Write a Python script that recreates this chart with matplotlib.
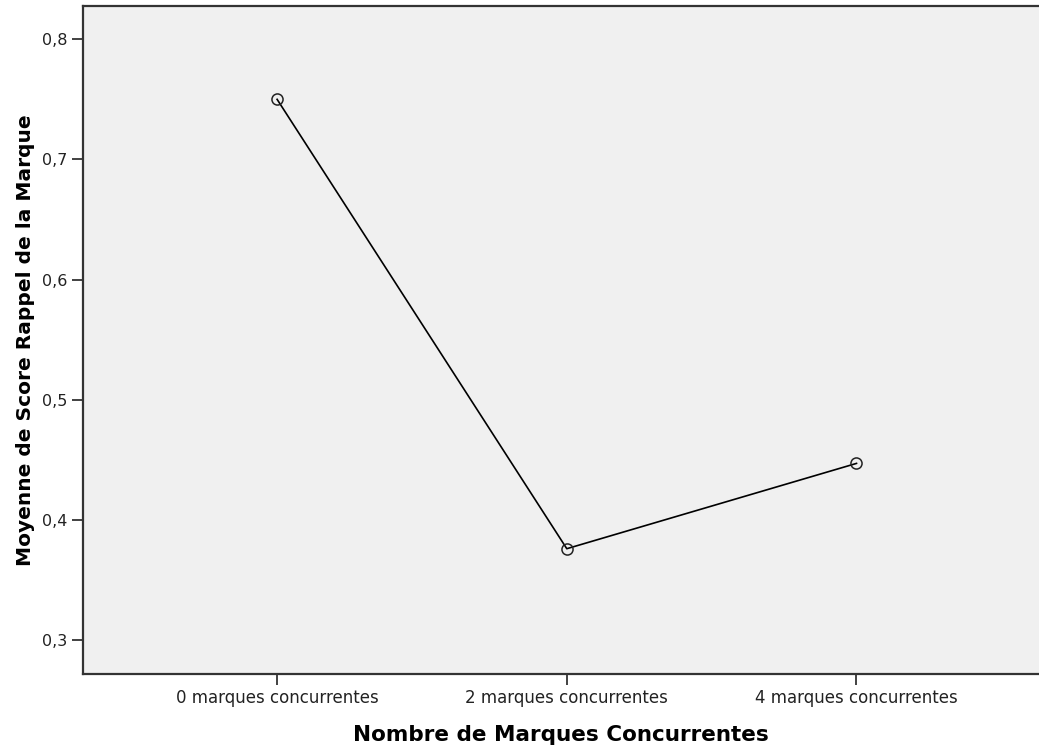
import matplotlib.pyplot as plt
import numpy as np

plt.rcParams['font.family'] = ['DejaVu Sans']

categories = ["0 marques concurrentes", "2 marques concurrentes", "4 marques concurrentes"]
means = [0.750, 0.376, 0.447]
yticks = [0.3, 0.4, 0.5, 0.6, 0.7, 0.8]
ytick_labels = ["0,3", "0,4", "0,5", "0,6", "0,7", "0,8"]

fig = plt.figure(figsize=(10.39, 7.49), dpi=100)
ax = fig.add_axes([0.0799, 0.1001, 0.9201, 0.8919])
ax.set_facecolor("#f0f0f0")

x = np.arange(len(categories))
ax.plot(x, means, color="black", lw=1.2, marker="o", ms=8, mfc="none",
        mec="#222222", mew=1.1)

ax.set_xlim(-0.67, 2.63)
ax.set_ylim(0.2717, 0.8277)
ax.set_xticks(x)
ax.set_xticklabels(categories, fontsize=12)
ax.set_yticks(yticks)
ax.set_yticklabels(ytick_labels, fontsize=11.5)

for s in ["left", "bottom", "top"]:
    ax.spines[s].set_linewidth(1.6)
    ax.spines[s].set_color("#333333")
ax.spines["right"].set_visible(False)
ax.tick_params(axis="both", length=8, width=1.3, color="#333333",
               labelcolor="#222222", pad=3)

ax.set_xlabel("Nombre de Marques Concurrentes", fontsize=15.5, fontweight="bold",
              labelpad=13)
ax.set_ylabel("Moyenne de Score Rappel de la Marque", fontsize=14.5,
              fontweight="bold", labelpad=5)

fig.savefig("out.png", dpi=100)
